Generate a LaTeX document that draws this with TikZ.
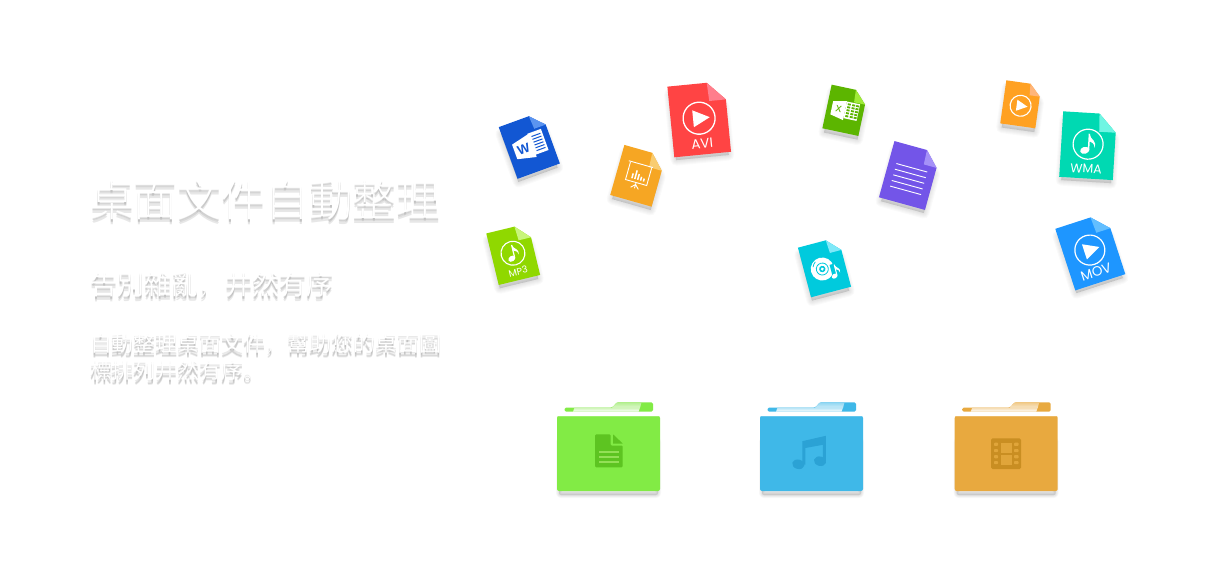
\documentclass[tikz,border=0pt]{standalone}
\usepackage{fontspec}
\newfontfamily\cjk{Noto Sans CJK TC Light}
\newfontfamily\cjkr{Noto Sans CJK TC}
\newfontfamily\cjkp{Noto Sans CJK SC Light}
\newfontfamily\lbl{Poppins}
\newfontfamily\lblb{Liberation Sans}
\definecolor{softgrey}{HTML}{8A8A8A}
\definecolor{wordblue}{HTML}{1257D3}\definecolor{wordfold}{HTML}{5B94F0}
\definecolor{avired}{HTML}{FF4444}\definecolor{avifold}{HTML}{FF7E8C}
\definecolor{pptorange}{HTML}{F6A623}\definecolor{pptfold}{HTML}{F9CC70}
\definecolor{mpgreen}{HTML}{90D800}\definecolor{mpfold}{HTML}{C8F57A}
\definecolor{xlgreen}{HTML}{5CB500}\definecolor{xlfold}{HTML}{9FEB38}
\definecolor{docpurple}{HTML}{7355E8}\definecolor{docfold}{HTML}{A591F8}
\definecolor{cdteal}{HTML}{00CADD}\definecolor{cdfold}{HTML}{7FE8F8}
\definecolor{playorange}{HTML}{FFA122}\definecolor{playfold}{HTML}{FFB57A}
\definecolor{wmateal}{HTML}{00D9B2}\definecolor{wmafold}{HTML}{6FF5E3}
\definecolor{movblue}{HTML}{1E96FF}\definecolor{movfold}{HTML}{62BEFF}
\definecolor{fgreen}{HTML}{82EB45}\definecolor{fgreenp}{HTML}{B4EF90}
\definecolor{fblue}{HTML}{3FB8E8}\definecolor{ftabblue}{HTML}{3FB8E8}\definecolor{fbluep}{HTML}{8FD6F2}
\definecolor{forange}{HTML}{E8A93F}\definecolor{forangep}{HTML}{F0C987}
\definecolor{idgreen}{HTML}{5DC421}\definecolor{idline}{HTML}{93E056}
\definecolor{idblue}{HTML}{2BA2D5}
\definecolor{idorange}{HTML}{C98E22}\definecolor{idhole}{HTML}{E0A53A}
\tikzset{
  softlayer/.style={anchor=base west,inner sep=0pt,outer sep=0pt},
  iconlabel/.style={text=white,inner sep=0pt,transform shape},
}
% name, x, baseline y, size, font, text
\newcommand\softtext[6]{%
  \foreach \d/\o in {2/.18,3.5/.26,5/.2}{%
    \node[softlayer,text=softgrey,opacity=\o,name=#1-s\d] at (#2,#3+\d)
      {#5\fontsize{#4}{#4}\selectfont #6};
  }
  \node[softlayer,text=white,name=#1] at (#2,#3) {#5\fontsize{#4}{#4}\selectfont #6};
}
% cx, cy, rot, w, h, fold, main, foldcolour, content
\newcommand\docicon[9]{%
  \pgfmathsetmacro\hw{#4/2}\pgfmathsetmacro\hh{#5/2}%
  \pgfmathsetmacro\fx{#4/2-#6}\pgfmathsetmacro\fy{-#5/2+1.05*#6}%
  \begin{scope}[shift={(#1,#2+5.5)},rotate=#3,scale=.93]
    \foreach \lw in {11,9,7,5,3,1}{%
      \filldraw[black,opacity=.02,line width=\lw,line join=round]
        (-\hw,-\hh) -- (\fx,-\hh) -- (\hw,\fy) -- (\hw,\hh) -- (-\hw,\hh) -- cycle;
    }
  \end{scope}
  \begin{scope}[shift={(#1,#2)},rotate=#3]
    \fill[#7] (-\hw,-\hh) -- (\fx,-\hh) -- (\hw,\fy) -- (\hw,\hh) -- (-\hw,\hh) -- cycle;
    \fill[#8] (\fx,-\hh) -- (\hw,\fy) -- (\fx+.8,\fy) -- cycle;
    #9
  \end{scope}
}
\newcommand\playring[4]{% x,y,r,lw
  \draw[white,line width=#4] (#1,#2) circle[radius=#3];
  \begin{scope}[shift={(#1,#2)},scale=#3]
    \fill[white] (-.38,-.53) -- (.67,0) -- (-.38,.53) -- cycle;
  \end{scope}
}
\newcommand\noteglyph[4]{% x,y,scale,colour
  \begin{scope}[shift={(#1,#2)},scale=#3]
    \fill[#4] (-.2,.42) ellipse[x radius=.31,y radius=.23,rotate=20];
    \fill[#4] (.0,.42) -- (.0,-.7) -- (.1,-.7) -- (.1,.42) -- cycle;
    \fill[#4] (.05,-.7) .. controls (.15,-.25) and (.62,-.3) .. (.42,.22)
      .. controls (.46,-.08) and (.22,-.14) .. (.05,-.22) -- cycle;
  \end{scope}
}
\newcommand\notering[4]{%
  \draw[white,line width=#4] (#1,#2) circle[radius=#3];
  \noteglyph{#1}{#2}{#3}{white}
}
% xshift, body, tab, paper
\newcommand\folder[4]{%
  \begin{scope}[xshift=#1]
    \foreach \lw in {6,4.5,3,1.5}{%
      \filldraw[black,opacity=.028,line width=\lw,rounded corners=2pt,line join=round]
        (559,440) rectangle (658,495);
    }
    \fill[#3,rounded corners=1.5pt] (564.5,411.7) -- (564.5,407.7) -- (612,407.7) -- (617,402.3)
      -- (653,402.3) -- (653,411.7) -- cycle;
    \shade[top color=#4,bottom color=#4!45!white] (612,407.9) -- (617,402.3) -- (641.5,402.3) -- (640,407.9) -- cycle;
    \shade[top color=#4!65!white,bottom color=white] (574.5,407.7) -- (640,407.7) -- (638.5,411.7) -- (573,411.7) -- cycle;
    \fill[#2,rounded corners=2pt] (557,416) rectangle (660,491);
    \fill[#2!80!white,rounded corners=.8pt] (557.6,416) rectangle (659.4,416.9);
  \end{scope}
}
\begin{document}
\begin{tikzpicture}[x=1pt,y=-1pt]
\useasboundingbox (0,0) rectangle (1208,570);
\fill[white] (0,0) rectangle (1208,570);

% ---- texts
\softtext{title}{90}{216}{43.8}{\cjk}{桌面文件自動整理}
\softtext{sub}{90}{294}{27}{\cjkr}{告別雜亂{\cjkp ，}井然有序}
\softtext{bodya}{90}{351.5}{21.95}{\cjkr}{自動整理桌面文件{\cjkp ，}幫助您的桌面圖}
\softtext{bodyb}{90}{378.5}{21.95}{\cjkr}{標排列井然有序{\cjkp 。}}

% ---- Word
\docicon{529.3}{145.3}{20}{45}{55}{13}{wordblue}{wordfold}{%
  \fill[white] (2,-11.5) rectangle (16.5,11);
  \foreach \yy in {-8,-5,-2,1,4,7}{\fill[wordblue] (5,\yy) rectangle (14.5,\yy+1);}
  \fill[white] (-16,-6.5) -- (3,-11) -- (3,13.5) -- (-16,9) -- cycle;
  \node[iconlabel,text=wordblue,name=wordw] at (-6.5,1.5) {\lblb\bfseries\fontsize{13}{13}\selectfont W};
}
% ---- AVI
\docicon{699.2}{119.2}{5.6}{57}{71}{17.5}{avired}{avifold}{%
  \playring{0}{-1}{16}{1.3}
  \node[iconlabel,name=avi] at (0.5,25) {\lbl\fontsize{13.5}{13.5}\selectfont AVI};
}
% ---- PPT
\docicon{638}{175.8}{-15.8}{43}{52}{14}{pptorange}{pptfold}{%
  \draw[white,line width=.9] (-13,-12) -- (12,-12);
  \draw[white,line width=.9] (-11,-11) -- (-11,7) -- (11,7) -- (11,-11);
  \foreach \xa/\ha in {-6/5,-3/9,0/6,3/4,6/3}{\fill[white] (\xa,4) rectangle (\xa+1.5,4-\ha);}
  \draw[white,line width=.9] (0,7) -- (0,13) (0,9) -- (-4,13) (0,9) -- (4,13);
}
% ---- MP3
\docicon{513.2}{254.2}{13.6}{42.6}{53}{13.6}{mpgreen}{mpfold}{%
  \notering{0}{-1}{12}{1.1}
  \node[iconlabel,name=mp3] at (0.8,18) {\lbl\fontsize{9.5}{9.5}\selectfont MP3};
}
% ---- Excel
\docicon{845}{110.3}{-12}{36.8}{44.6}{12}{xlgreen}{xlfold}{%
  \fill[white] (0,-9) rectangle (13.5,8);
  \foreach \yy in {-7.5,-4.5,-1.5,1.5,4.5}{\foreach \xx in {1.5,6,10}{\fill[xlgreen] (\xx,\yy) rectangle (\xx+3,\yy+1.8);}}
  \fill[white] (-13.5,-6.5) -- (0,-9.5) -- (0,10) -- (-13.5,7) -- cycle;
  \node[iconlabel,text=xlgreen,name=xlx] at (-6.5,0) {\lblb\fontsize{12}{12}\selectfont x};
}
% ---- purple doc
\docicon{909.7}{175.5}{-15.4}{47.7}{58.3}{14}{docpurple}{docfold}{%
  \foreach \yy in {-8,-2.15,3.7,9.55,15.4}{\draw[white,line width=.9] (-16,\yy) -- (16,\yy);}
}
% ---- CD
\docicon{824.5}{267.2}{14.8}{41.4}{51.3}{12.6}{cdteal}{cdfold}{%
  \fill[white] (-2.6,1.2) circle[radius=11.5];
  \draw[cdteal,line width=.8] (-2.6,1.2) circle[radius=6];
  \fill[cdteal] (-2.6,1.2) circle[radius=3.2];
  \fill[white] (-2.6,1.2) circle[radius=1.6];
  \draw[cdteal,line width=.8] (-11,-3) arc[start angle=200,end angle=235,radius=9.5];
  \fill[cdteal] (5.5,-1) rectangle (16,16);
  \noteglyph{9.5}{7}{10}{white}
}
% ---- small play
\docicon{1020.8}{104.3}{-8}{35.4}{43.5}{11}{playorange}{playfold}{%
  \playring{0}{1.5}{10.5}{1.1}
}
% ---- WMA
\docicon{1088}{145.7}{-3.5}{53.7}{65.6}{17.3}{wmateal}{wmafold}{%
  \notering{0}{-1.5}{15}{1.2}
  \node[iconlabel,name=wma] at (-0.5,23) {\lbl\fontsize{12.5}{12.5}\selectfont WMA};
}
% ---- MOV
\docicon{1090.3}{251.5}{18}{52.6}{64.7}{15.6}{movblue}{movfold}{%
  \playring{0}{-1.5}{15}{1.2}
  \node[iconlabel,name=mov] at (-0.8,21) {\lbl\fontsize{13.5}{13.5}\selectfont MOV};
}

% ---- folders
\folder{0}{fgreen}{fgreen}{fgreenp}
\folder{203}{fblue}{ftabblue}{fbluep}
\folder{397.7}{forange}{forange}{forangep}

% document glyph
\fill[idgreen,rounded corners=1.2pt] (595,434.3) -- (610.5,434.3) -- (610.5,445.5) -- (622.7,445.5) -- (622.7,467.3) -- (595,467.3) -- cycle;
\fill[idgreen] (613,434.3) -- (622.7,443.5) -- (613,443.5) -- cycle;
\foreach \yy in {451.7,456.7,461.7}{\draw[idline,line width=1.8] (599,\yy) -- (619,\yy);}

% music glyph
\fill[idblue] (802.3,441.2) -- (825.9,435.8) -- (825.9,461.5) -- (822.8,461.5) -- (822.8,444.8) -- (805.3,448) -- (805.3,464.5) -- (802.3,464.5) -- cycle;
\fill[idblue] (798.3,464.3) ellipse[x radius=6.2,y radius=4.7,rotate=-15];
\fill[idblue] (820,461.2) ellipse[x radius=6.2,y radius=4.7,rotate=-15];

% film glyph
\fill[idorange,rounded corners=1.5pt] (991,438.3) rectangle (1021,469);
\foreach \yy in {444.3,450.6,456.7,462.6}{%
  \fill[idhole,rounded corners=.8pt] (994,\yy-1.6) rectangle (998,\yy+1.6);
  \fill[idhole,rounded corners=.8pt] (1014,\yy-1.6) rectangle (1018.5,\yy+1.6);
}
\fill[idhole] (1000.7,442.7) rectangle (1012,452.7);
\fill[idhole] (1000.7,455) rectangle (1012,465.3);
\end{tikzpicture}
\end{document}
